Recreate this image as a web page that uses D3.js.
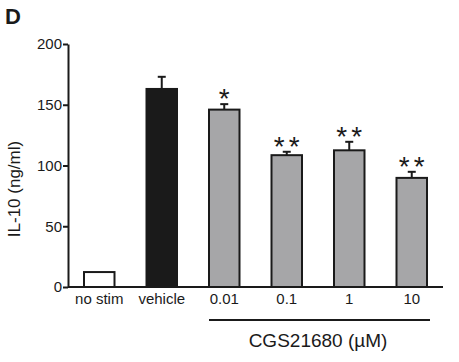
<!DOCTYPE html>
<html>
<head>
<meta charset="utf-8">
<script src="https://cdn.jsdelivr.net/npm/d3@7"></script>
<style>
  body { margin: 0; background: #fff; }
  text { font-family: "Liberation Sans", Arial, sans-serif; fill: #1a1a1a; }
</style>
</head>
<body>
<svg id="chart" width="459" height="362"></svg>
<script>
// values
const groups = ["no stim", "vehicle", "0.01", "0.1", "1", "10"];
const il10 = [12.3, 163, 146, 108.5, 112.5, 89.8];
const sem = [0, 10, 4.5, 2.8, 7, 5];
const stars = ["", "", "*", "**", "**", "**"];
const fills = ["#ffffff", "#1a1a1a", "#a6a6a8", "#a6a6a8", "#a6a6a8", "#a6a6a8"];
const yTicks = [0, 50, 100, 150, 200];
const drugLabel = "CGS21680 (\u00b5M)";

const svg = d3.select("#chart");

const x = d3.scaleBand().domain(groups).range([68, 443])
            .paddingInner(0.48).paddingOuter(0.24);
const y = d3.scaleLinear().domain([0, 200]).range([287, 44]);

// y axis
const yAxis = svg.append("g")
    .attr("transform", "translate(68,0)")
    .call(d3.axisLeft(y).tickValues(yTicks).tickSize(5).tickSizeOuter(0).tickPadding(1));
yAxis.selectAll("path, line").attr("stroke", "#1a1a1a").attr("stroke-width", 2);
yAxis.selectAll("text").style("font-size", "15px").attr("fill", "#1a1a1a");

// bars
const data = groups.map((g, i) => ({g: g, v: il10[i], e: sem[i], s: stars[i], f: fills[i]}));

svg.append("g").selectAll("rect")
   .data(data)
   .enter()
   .append("rect")
   .attr("x", d => x(d.g) + 1)
   .attr("width", x.bandwidth() - 2)
   .attr("y", d => y(d.v))
   .attr("height", d => y(0) - y(d.v))
   .attr("fill", d => d.f)
   .attr("stroke", "#1a1a1a")
   .attr("stroke-width", 2);

// error bars (upper only)
const errs = svg.append("g").selectAll("g")
   .data(data.filter(d => d.e > 0))
   .enter()
   .append("g")
   .attr("stroke", "#1a1a1a")
   .attr("stroke-width", 2);
errs.append("line")
    .attr("x1", d => x(d.g) + x.bandwidth() / 2)
    .attr("x2", d => x(d.g) + x.bandwidth() / 2)
    .attr("y1", d => y(d.v))
    .attr("y2", d => y(d.v + d.e));
errs.append("line")
    .attr("x1", d => x(d.g) + x.bandwidth() / 2 - 4)
    .attr("x2", d => x(d.g) + x.bandwidth() / 2 + 4)
    .attr("y1", d => y(d.v + d.e))
    .attr("y2", d => y(d.v + d.e));

// significance stars
svg.append("g").selectAll("text")
   .data(data.filter(d => d.s))
   .enter()
   .append("text")
   .attr("x", d => x(d.g) + x.bandwidth() / 2 + 2)
   .attr("y", d => y(d.v + d.e) + 4)
   .attr("text-anchor", "middle")
   .style("font-size", "28px")
   .style("letter-spacing", "4px")
   .attr("fill", "#333")
   .text(d => d.s);

// x axis
const xAxis = svg.append("g")
    .attr("transform", "translate(0,287)")
    .call(d3.axisBottom(x).tickSize(0).tickPadding(6));
xAxis.select(".domain").attr("d", "M68,0H443").attr("stroke", "#1a1a1a").attr("stroke-width", 2);
xAxis.selectAll("text").style("font-size", "15px").attr("fill", "#1a1a1a");

// bracket under the drug concentrations
svg.append("line")
   .attr("x1", x("0.01") + 1)
   .attr("x2", x("10") + x.bandwidth() + 2)
   .attr("y1", 320).attr("y2", 320)
   .attr("stroke", "#1a1a1a").attr("stroke-width", 2);

svg.append("text")
   .attr("x", (x("0.01") + x("10") + x.bandwidth()) / 2)
   .attr("y", 347)
   .attr("text-anchor", "middle")
   .style("font-size", "19px")
   .text(drugLabel);

// y label
svg.append("text")
   .attr("transform", "translate(20,189) rotate(-90)")
   .attr("text-anchor", "middle")
   .style("font-size", "17px")
   .text("IL-10 (ng/ml)");

// panel letter
svg.append("text")
   .attr("x", 5).attr("y", 24)
   .style("font-size", "22px")
   .style("font-weight", "bold")
   .text("D");
</script>
</body>
</html>
